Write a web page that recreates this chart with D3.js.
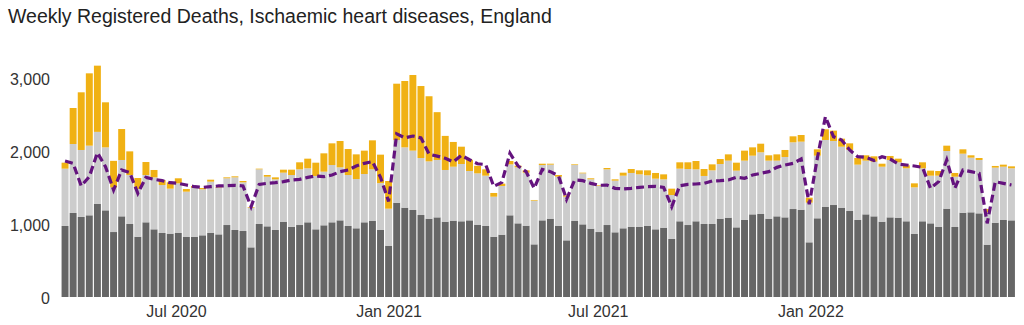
<!DOCTYPE html>
<html>
<head>
<meta charset="utf-8">
<script src="https://cdn.jsdelivr.net/npm/d3@7"></script>
<style>
  html, body { margin: 0; padding: 0; background: #fff; }
  svg { display: block; font-family: "Liberation Sans", Arial, sans-serif; }
</style>
</head>
<body>
<svg id="chart" width="1024" height="325"></svg>
<script>
// ---- Data ----
const firstWeekEnding = "2020-03-27";
const weekCount = 118;

// dark grey segment (bottom)
const underlying = [973,1151,1096,1119,1274,1187,890,1105,1000,826,1023,927,877,868,877,822,826,845,877,858,
  986,918,904,680,1000,968,918,1032,963,986,1023,927,982,1023,1050,973,941,1023,1041,918,
  703,1292,1224,1192,1123,1073,1091,1032,1046,1037,1050,991,973,826,854,1119,1009,977,721,1050,
  1073,973,776,1041,995,936,890,986,886,941,959,959,977,927,950,795,1037,986,1037,1000,
  1000,1073,1087,954,1055,1132,1137,1073,1105,1091,1205,1196,749,1078,1233,1260,1224,1178,1055,1132,
  1105,1032,1091,1087,1037,863,1037,1009,963,1210,959,1155,1160,1146,717,1018,1055,1050];

// light grey segment (middle)
const mentioned = [785,945,918,954,988,863,610,772,671,654,648,712,657,616,680,621,672,630,703,640,
  640,721,667,544,749,680,694,671,708,763,740,731,735,785,726,698,675,662,708,642,
  507,858,826,813,781,785,786,708,739,785,676,703,689,548,667,698,767,726,599,758,
  740,675,598,767,699,676,631,763,708,721,740,721,690,694,662,602,721,767,712,658,
  735,749,781,777,813,804,845,795,763,827,914,932,543,858,918,877,835,836,758,736,
  749,753,786,758,726,639,726,653,699,790,689,808,749,731,443,754,730,713];

// orange segment (top)
const covid = [82,493,790,991,907,617,365,424,324,150,178,101,69,87,69,36,23,18,27,7,
  13,14,18,9,9,23,27,41,73,96,132,182,251,297,361,356,338,320,397,390,
  379,772,909,1036,986,892,655,467,339,237,154,103,87,51,32,46,23,32,9,18,
  13,23,19,9,9,14,9,18,18,41,54,55,68,78,68,87,87,92,114,95,
  82,68,86,109,137,114,118,73,86,96,82,91,69,87,146,142,110,91,91,73,
  73,41,55,50,41,55,82,69,64,73,51,60,32,27,45,23,28,27];

// purple dashed line
const expected = [1863,1831,1521,1648,1977,1785,1466,1740,1703,1420,1639,1612,1594,1566,1557,1534,1511,1502,1511,1521,
  1525,1530,1521,1237,1543,1557,1566,1580,1603,1612,1639,1658,1648,1671,1717,1740,1795,1831,1854,1640,
  1310,2235,2180,2205,2180,1957,1930,1900,1850,1940,1880,1825,1815,1515,1570,1970,1795,1717,1489,1749,
  1717,1660,1338,1603,1594,1557,1530,1534,1489,1480,1489,1502,1511,1516,1502,1237,1525,1543,1548,1557,
  1589,1594,1603,1640,1626,1671,1694,1717,1776,1808,1831,1890,1270,1900,2470,2196,2151,2014,1922,1913,
  1870,1922,1890,1822,1808,1795,1776,1489,1580,1877,1489,1740,1717,1694,1009,1580,1557,1534];

const yTicks = [0, 1000, 2000, 3000];
const xTickDates = ["2020-07-01", "2021-01-01", "2021-07-01", "2022-01-01"];
const xTickLabels = ["Jul 2020", "Jan 2021", "Jul 2021", "Jan 2022"];
const seriesKeys = ["underlying", "mentioned", "covid"];
const seriesColors = ["#666666", "#cccccc", "#f0b114"];
const titleText = "Weekly Registered Deaths, Ischaemic heart diseases, England";

// ---- Build table ----
const parse = d3.utcParse("%Y-%m-%d");
const start = parse(firstWeekEnding);
const weeks = d3.range(weekCount).map(i => d3.utcDay.offset(start, 7 * i));
const table = weeks.map((d, i) => ({
  date: d, underlying: underlying[i], mentioned: mentioned[i], covid: covid[i], expected: expected[i]
}));

// ---- Layout ----
const svg = d3.select("#chart");
const halfWeek = 3.5 * 24 * 3600 * 1000;
const x = d3.scaleUtc()
  .domain([new Date(weeks[0].getTime() - halfWeek), new Date(weeks[weeks.length - 1].getTime() + halfWeek)])
  .range([61, 1015.5]);
const y = d3.scaleLinear().domain([0, 3000]).range([297, 78]);
const pitch = x(weeks[1]) - x(weeks[0]);
const barW = pitch - 1.15;

svg.append("text")
  .attr("x", 8).attr("y", 23)
  .attr("font-size", 19.5)
  .attr("fill", "#222")
  .text(titleText);

const stacked = d3.stack().keys(seriesKeys)(table);
svg.append("g").selectAll("g")
  .data(stacked)
  .join("g")
  .attr("fill", (d, i) => seriesColors[i])
  .selectAll("rect")
  .data(d => d)
  .join("rect")
  .attr("x", d => x(d.data.date) - barW / 2)
  .attr("width", barW)
  .attr("y", d => y(d[1]))
  .attr("height", d => Math.max(0, y(d[0]) - y(d[1])));

svg.append("path")
  .datum(table)
  .attr("fill", "none")
  .attr("stroke", "#64137e")
  .attr("stroke-width", 3.2)
  .attr("stroke-dasharray", "8,4")
  .attr("d", d3.line().x(d => x(d.date)).y(d => y(d.expected)));

// y axis
const yAxis = d3.axisLeft(y).tickValues(yTicks).tickFormat(d3.format(",")).tickSize(0).tickPadding(0);
const gy = svg.append("g").attr("transform", "translate(50,1)").call(yAxis);
gy.select(".domain").remove();
gy.selectAll("text").attr("font-size", 16).attr("fill", "#333").attr("font-family", "Liberation Sans, Arial, sans-serif");

// x axis
const xAxis = d3.axisBottom(x).tickValues(xTickDates.map(parse))
  .tickFormat((d, i) => xTickLabels[i]).tickSize(0).tickPadding(0);
const gx = svg.append("g").attr("transform", "translate(0,306)").call(xAxis);
gx.select(".domain").remove();
gx.selectAll("text").attr("font-size", 16).attr("fill", "#333").attr("font-family", "Liberation Sans, Arial, sans-serif");
</script>
</body>
</html>
